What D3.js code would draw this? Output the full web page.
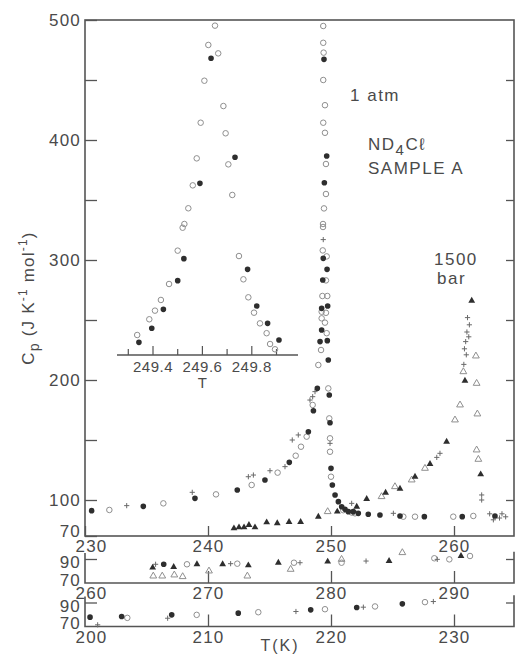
<!DOCTYPE html>
<html>
<head>
<meta charset="utf-8">
<script src="https://cdn.jsdelivr.net/npm/d3@7"></script>
<style>
html, body { margin: 0; padding: 0; background: #fff; }
svg text { font-family: "Liberation Sans", Arial, sans-serif; fill: #4a4a4a; }
</style>
</head>
<body>
<div id="chart"></div>
<script>
// ---- main panel, 1 atm  [T (K), Cp]
const atmFilled = [
  [230.54, 91.1], [234.74, 94.7], [238.94, 101.4], [242.38, 108.3], [244.63, 116.7],
  [246.61, 131.4], [248.16, 156.9], [248.57, 174.4], [248.89, 193.1],
  [249.43, 467.2], [249.65, 386.7], [249.46, 364.4], [249.37, 301.4], [249.68, 292.2],
  [249.33, 283.3], [249.24, 259.7], [249.73, 261.7], [249.24, 241.7], [249.11, 232],
  [249.70, 232.8], [249.78, 216.7],
  [249.86, 187.5], [249.92, 164.4], [250.0, 126.4], [250.11, 112.5], [250.33, 104.2],
  [250.6, 98.6], [250.87, 94.4], [251.14, 92.2], [251.41, 90.3], [251.81, 90.3],
  [252.22, 88.9], [253.03, 88.1], [253.98, 87.5], [255.61, 86.7], [257.59, 86.1],
  [260.67, 86.1], [263.33, 86.7]
];
const atmOpen = [
  [231.98, 91.7], [236.37, 97.2], [240.65, 104.7], [243.55, 112.5], [245.66, 122.8],
  [247.13, 136.9], [247.56, 144.4], [248.02, 152.8], [248.51, 179.2],
  [249.37, 495], [249.37, 481], [249.40, 472.8], [249.37, 450], [249.51, 429],
  [249.37, 414.4], [249.51, 406], [249.59, 380], [249.59, 355], [249.43, 343],
  [249.35, 330], [249.35, 327.5], [249.33, 308], [249.65, 303], [249.59, 283],
  [249.30, 270], [249.70, 270], [249.24, 256.9], [249.59, 256], [249.24, 251.4],
  [249.51, 247.8], [249.65, 239], [249.19, 225], [248.97, 212.5],
  [249.78, 193], [249.86, 168], [249.92, 151.4], [249.92, 140.2], [250.0, 119.4],
  [251.0, 91.5], [251.7, 89.5], [251.95, 88.9], [255.88, 86.1], [256.83, 86.1],
  [259.94, 86.1], [261.57, 86.7]
];
const atmPlus = [
  [233.39, 95.3], [238.72, 106.4], [243.28, 119.4], [243.69, 120.8], [245.04, 124.4],
  [246.26, 127.8], [246.85, 150], [247.34, 154.2], [248.29, 183.3], [248.51, 186.1],
  [248.70, 190.3], [249.37, 317], [249.92, 147.2], [251.68, 97.2], [255.07, 88.9]
];

// ---- main panel, 1500 bar
const barFilled = [
  [242.11, 76.4], [242.52, 77.2], [242.93, 77.2], [243.33, 79.2], [243.82, 77.2],
  [244.77, 81.4], [245.63, 80.6], [246.59, 81.7], [247.53, 81.7], [248.97, 86.1],
  [250.51, 90.3], [252.09, 94.4], [252.9, 100.8], [254.44, 106.1], [255.61, 109.4],
  [256.83, 119.4], [258.05, 130], [259.4, 148.6], [260.89, 199.4], [261.44, 266.1],
  [262.17, 121.4]
];
const barOpen = [
  [249.73, 90.3], [254.11, 102.8], [255.2, 111.1], [256.56, 116.7], [257.64, 126.4],
  [260.08, 166.7], [260.49, 179.2], [260.76, 206.9], [261.78, 220], [261.84, 197.2],
  [261.9, 171.7], [261.84, 141.7], [261.98, 133.9]
];
const barPlus = [
  [261.1, 252], [261.25, 246], [261.05, 240], [261.2, 236], [260.95, 232],
  [260.85, 226], [261.0, 221], [260.8, 213], [258.86, 138.9], [258.6, 135.5],
  [262.25, 104.2], [262.25, 100], [262.9, 88.5], [263.7, 85], [263.9, 88.5],
  [263.2, 83.5], [264.2, 86]
];

// ---- lower strip, 260-295 K
const s2Filled = [[266.4, 85.6]];
const s2Open = [[268.29, 85.6], [272.38, 86.1], [276.99, 86.9], [280.86, 86.9], [288.4, 90.6], [289.62, 89.7], [291.3, 92.5]];
const s2Plus = [[265.74, 85.6], [271.84, 86.1], [277.48, 86.9], [282.85, 88.3], [288.64, 89.7]];
const s2TriFilled = [[265.5, 82.8], [267.21, 83.3], [269.1, 85.6], [271.19, 85.6], [273.28, 84.7], [275.72, 86.9], [279.73, 87.8], [284.72, 88.3], [290.57, 92.5]];
const s2TriOpen = [[265.55, 75.8], [266.28, 75.8], [267.26, 76.7], [267.94, 75.3], [270.08, 80], [273.2, 75.8], [276.72, 81.4], [280.86, 89.7], [285.8, 95.3]];

// ---- bottom strip, 200-235 K
const s3Filled = [[200.41, 77.8], [202.98, 78.3], [207.05, 79.7], [212.46, 81.1], [218.35, 83.9], [222.09, 85.8], [225.8, 88.9]];
const s3Open = [[203.44, 77.2], [209.08, 79.7], [214.09, 81.9], [219.51, 84.4], [223.58, 86.7], [227.64, 90.3]];
const s3Plus = [[201.03, 71.4], [206.72, 76.9], [217.15, 82.5], [222.63, 86.1], [228.32, 90.8]];

// ---- inset, expanded T scale
const insetFilled = [
  [249.635, 468.1], [249.732, 385.6], [249.590, 363.9], [249.525, 301.1], [249.783, 292.2],
  [249.50, 282.8], [249.442, 258.9], [249.82, 261.7], [249.395, 243.1], [249.343, 231.4],
  [249.864, 247.2], [249.91, 233.3]
];
const insetOpen = [
  [249.651, 495.3], [249.624, 479.2], [249.664, 472.2], [249.608, 449.4], [249.685, 428.3],
  [249.593, 414.4], [249.694, 405.6], [249.577, 384.7], [249.705, 379.7], [249.561, 362.2],
  [249.721, 354.2], [249.543, 343.1], [249.527, 330], [249.52, 326.9], [249.50, 307.8],
  [249.748, 303.3], [249.465, 280], [249.766, 283.9], [249.432, 266.7], [249.408, 257.8],
  [249.786, 268.9], [249.809, 256.1], [249.385, 250.6], [249.336, 237.5], [249.833, 247.2],
  [249.86, 239], [249.874, 230], [249.894, 225.6]
];

const mainTicksY = [70, 100, 150, 200, 250, 300, 350, 400, 450, 500];
const mainTicksX = [230, 240, 250, 260];
const s2TicksX = [260, 270, 280, 290];
const s3TicksX = [200, 210, 220, 230];
const insetTicks = [249.3, 249.4, 249.5, 249.6, 249.7, 249.8, 249.9];
const insetLabels = [249.4, 249.6, 249.8];

const width = 516, height = 657;
const ink = "#2e2e2e", lineCol = "#555", openCol = "#8f8f8f";

const xMain = d3.scaleLinear().domain([230, 265]).range([85, 515.5]);
const x2 = d3.scaleLinear().domain([260, 295]).range([85, 515.5]);
const x3 = d3.scaleLinear().domain([200, 235]).range([85, 515.5]);
const yMain = d3.scaleLinear().domain([70, 500]).range([536, 20]);
const y2 = d3.scaleLinear().domain([70, 90]).range([583, 559]);
const y3 = d3.scaleLinear().domain([70, 90]).range([626.5, 602.5]);
const xIn = d3.scaleLinear().domain([249.3, 249.8]).range([128.3, 251.8]);
const xRight = 514;

const svg = d3.select("#chart").append("svg")
    .attr("width", width)
    .attr("height", height);

// frames
const frame = svg.append("g").attr("fill", "none").attr("stroke", lineCol).attr("stroke-width", 1.6);
frame.append("rect")
    .attr("x", xMain(230)).attr("y", yMain(500))
    .attr("width", xRight - xMain(230)).attr("height", yMain(70) - yMain(500));
[[x2, y2], [x3, y3]].forEach(([x, y]) => {
    frame.append("path").attr("d",
        `M${x.range()[0]},${y(95)}V${y(70)}H${xRight}V${y(96)}`);
});

function styleAxis(g) {
    g.select(".domain").remove();
    g.selectAll(".tick line").attr("stroke", lineCol).attr("stroke-width", 1.3);
    g.selectAll(".tick text")
        .attr("font-size", 17)
        .attr("letter-spacing", 1.2)
        .attr("fill", "#4a4a4a");
}

// main y axis
svg.append("g")
    .attr("transform", `translate(${xMain(230)},0)`)
    .call(d3.axisLeft(yMain).tickValues(mainTicksY).tickSizeInner(-12).tickSizeOuter(0).tickPadding(4)
        .tickFormat(d => (d === 70 || d % 100 === 0) ? d : ""))
    .call(styleAxis)
    .call(g => g.selectAll(".tick").filter(d => d === 70).select("text").attr("dy", "0.0em"));

svg.append("g")
    .attr("transform", `translate(${xRight},0)`)
    .call(d3.axisRight(yMain).tickValues(mainTicksY.filter(d => d > 70 && d < 500)).tickSizeInner(-8).tickSizeOuter(0).tickFormat(""))
    .call(styleAxis);

// main x axis
svg.append("g")
    .attr("transform", `translate(0,${yMain(70)})`)
    .call(d3.axisBottom(xMain).tickValues(mainTicksX).tickSizeInner(-10).tickSizeOuter(0).tickPadding(4).tickFormat(d3.format("d")))
    .call(styleAxis)
    .call(g => g.selectAll(".tick").filter(d => d === 230).select("text").attr("dx", 6));

// strips
[[x2, y2, s2TicksX], [x3, y3, s3TicksX]].forEach(([x, y, ticks]) => {
    svg.append("g")
        .attr("transform", `translate(${x.range()[0]},0)`)
        .call(d3.axisLeft(y).tickValues([70, 90]).tickSizeInner(-12).tickSizeOuter(0).tickPadding(4))
        .call(styleAxis)
        .call(g => g.selectAll(".tick").filter(d => d === 70).select("text").attr("dy", "0.12em"))
        .call(g => g.selectAll(".tick").filter(d => d === 70).select("line").remove())
        .call(g => g.selectAll(".tick").filter(d => d === 90).select("text").attr("dy", "0.5em"));
    svg.append("g")
        .attr("transform", `translate(${xRight},0)`)
        .call(d3.axisRight(y).tickValues([90]).tickSizeInner(-8).tickSizeOuter(0).tickFormat(""))
        .call(styleAxis);
    svg.append("g")
        .attr("transform", `translate(0,${y(70)})`)
        .call(d3.axisBottom(x).tickValues(ticks).tickSizeInner(-12).tickSizeOuter(0).tickPadding(4).tickFormat(d3.format("d")))
        .call(styleAxis)
        .call(g => g.selectAll(".tick").filter((d, i) => i === 0).select("line").remove())
        .call(g => g.selectAll(".tick").filter((d, i) => i === 0).select("text").attr("dx", 6));
});

// inset axis
const inset = svg.append("g").attr("transform", "translate(0,355)");
inset.append("line").attr("x1", 117).attr("x2", 298).attr("stroke", lineCol).attr("stroke-width", 1.3);
inset.selectAll("line.t").data(insetTicks).enter().append("line")
    .attr("class", "t")
    .attr("x1", d => xIn(d)).attr("x2", d => xIn(d))
    .attr("y1", 0).attr("y2", d => insetLabels.some(v => Math.abs(v - d) < 1e-6) ? -9 : -6)
    .attr("stroke", lineCol).attr("stroke-width", 1.2);
inset.selectAll("text.l").data(insetLabels).enter().append("text")
    .attr("class", "l")
    .attr("x", d => xIn(d)).attr("y", 17)
    .attr("text-anchor", "middle").attr("font-size", 15).attr("letter-spacing", 0.5)
    .text(d => d.toFixed(1));
inset.append("text").attr("x", xIn(249.6)).attr("y", 33).attr("text-anchor", "middle")
    .attr("font-size", 15).text("T");

// markers
const plusPath = "M-2.6,0H2.6M0,-2.6V2.6";
function plot(data, x, y, kind) {
    const g = svg.append("g");
    const sel = g.selectAll("path").data(data).enter().append("path")
        .attr("transform", d => `translate(${x(d[0])},${y(d[1])})`);
    if (kind === "filled") sel.attr("d", d3.symbol(d3.symbolCircle, 25)).attr("fill", ink);
    if (kind === "open") sel.attr("d", d3.symbol(d3.symbolCircle, 24)).attr("fill", "none").attr("stroke", openCol).attr("stroke-width", 1);
    if (kind === "plus") sel.attr("d", plusPath).attr("fill", "none").attr("stroke", "#6a6a6a").attr("stroke-width", 1);
    if (kind === "triFilled") sel.attr("d", d3.symbol(d3.symbolTriangle, 20)).attr("fill", ink);
    if (kind === "triOpen") sel.attr("d", d3.symbol(d3.symbolTriangle, 20)).attr("fill", "none").attr("stroke", openCol).attr("stroke-width", 1);
}

plot(atmOpen, xMain, yMain, "open");
plot(barOpen, xMain, yMain, "triOpen");
plot(atmPlus, xMain, yMain, "plus");
plot(barPlus, xMain, yMain, "plus");
plot(atmFilled, xMain, yMain, "filled");
plot(barFilled, xMain, yMain, "triFilled");

plot(insetOpen, xIn, yMain, "open");
plot(insetFilled, xIn, yMain, "filled");

plot(s2Open, x2, y2, "open");
plot(s2TriOpen, x2, y2, "triOpen");
plot(s2Plus, x2, y2, "plus");
plot(s2Filled, x2, y2, "filled");
plot(s2TriFilled, x2, y2, "triFilled");

plot(s3Open, x3, y3, "open");
plot(s3Plus, x3, y3, "plus");
plot(s3Filled, x3, y3, "filled");

// annotations
const ann = svg.append("g").attr("font-size", 17).attr("letter-spacing", 1.5);
ann.append("text").attr("x", 350).attr("y", 101).text("1 atm");
const nd = ann.append("text").attr("x", 368).attr("y", 150);
nd.append("tspan").text("ND");
nd.append("tspan").attr("dy", 5).attr("font-size", 15).text("4");
nd.append("tspan").attr("dy", -5).text("Cℓ");
ann.append("text").attr("x", 368).attr("y", 174).text("SAMPLE A");
ann.append("text").attr("x", 434).attr("y", 265).text("1500");
ann.append("text").attr("x", 437).attr("y", 284).text("bar");

// axis titles
const yl = svg.append("text")
    .attr("transform", "translate(34,298) rotate(-90)")
    .attr("text-anchor", "middle").attr("font-size", 17).attr("letter-spacing", 1.2);
yl.append("tspan").text("C");
yl.append("tspan").attr("dy", 5).attr("font-size", 14).text("p");
yl.append("tspan").attr("dy", -5).text(" (J K");
yl.append("tspan").attr("dy", -7).attr("font-size", 12).text("-1");
yl.append("tspan").attr("dy", 7).text(" mol");
yl.append("tspan").attr("dy", -7).attr("font-size", 12).text("-1");
yl.append("tspan").attr("dy", 7).text(")");

svg.append("text").attr("x", 280).attr("y", 651).attr("text-anchor", "middle")
    .attr("font-size", 16).attr("letter-spacing", 2).text("T(K)");
</script>
</body>
</html>
